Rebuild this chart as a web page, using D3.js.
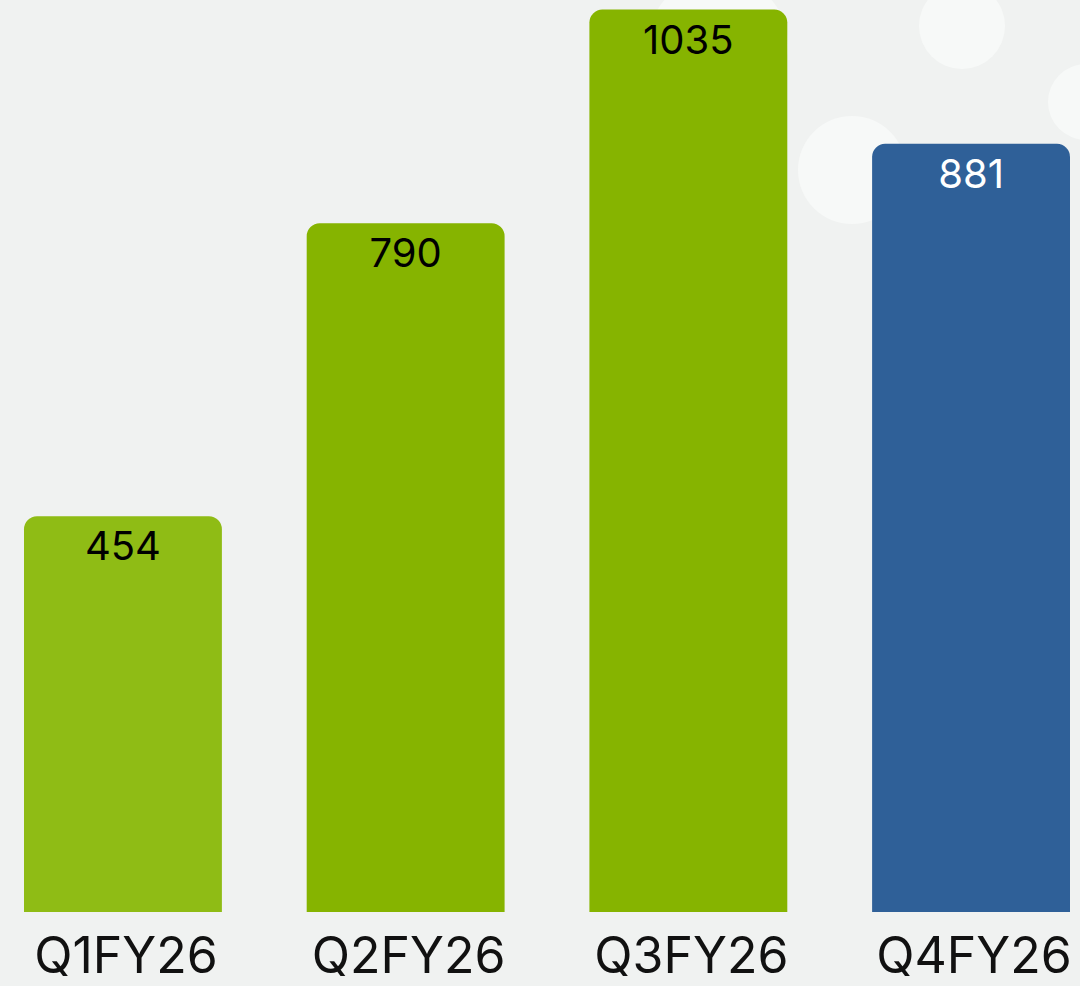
<!DOCTYPE html>
<html>
<head>
<meta charset="utf-8">
<script src="https://cdn.jsdelivr.net/npm/d3@7"></script>
<style>
  html, body { margin: 0; padding: 0; background: #f0f2f1; }
  svg { display: block; }
</style>
</head>
<body>
<svg id="chart" width="1080" height="986"></svg>
<script>
// ---- data ----
const categories = ["Q1FY26", "Q2FY26", "Q3FY26", "Q4FY26"];
const values = [454, 790, 1035, 881];

// ---- styles ----
const barColors = ["#8fbc15", "#86b400", "#86b400", "#2f6098"];
const labelColors = ["#000000", "#000000", "#000000", "#ffffff"];
const FONT = "Inter, 'Noto Sans', sans-serif";

const W = 1080, H = 986;
const svg = d3.select("#chart");

svg.append("rect").attr("width", W).attr("height", H).attr("fill", "#f0f2f1");

// decorative background bubbles
const bubbles = [
  { cx: 718, cy: 45, r: 70 },
  { cx: 962, cy: 26, r: 43 },
  { cx: 852, cy: 170, r: 54 },
  { cx: 1086, cy: 102, r: 38 }
];
svg.append("g").selectAll("circle").data(bubbles).join("circle")
  .attr("cx", d => d.cx).attr("cy", d => d.cy).attr("r", d => d.r)
  .attr("fill", "#f7f9f8");

const x = d3.scaleBand()
  .domain(categories)
  .range([24, 1070])
  .paddingInner(0.3)
  .paddingOuter(0);

const y = d3.scaleLinear()
  .domain([0, 1046])
  .range([912, 0]);

const rad = 13;
function barPath(d, i) {
  const x0 = x(categories[i]), x1 = x0 + x.bandwidth();
  const yt = y(d), yb = y(0);
  const p = d3.path();
  p.moveTo(x0, yb);
  p.lineTo(x0, yt + rad);
  p.arcTo(x0, yt, x0 + rad, yt, rad);
  p.lineTo(x1 - rad, yt);
  p.arcTo(x1, yt, x1, yt + rad, rad);
  p.lineTo(x1, yb);
  p.closePath();
  return p.toString();
}

svg.append("g").selectAll("path").data(values).join("path")
  .attr("d", (d, i) => barPath(d, i))
  .attr("fill", (d, i) => barColors[i]);

// value labels
svg.append("g").selectAll("text").data(values).join("text")
  .attr("x", (d, i) => x(categories[i]) + x.bandwidth() / 2)
  .attr("y", d => y(d) + 44)
  .attr("text-anchor", "middle")
  .attr("font-family", FONT)
  .attr("font-size", 40)
  .attr("fill", (d, i) => labelColors[i])
  .text(d => d);

// category axis
const xAxis = d3.axisBottom(x).tickSize(0).tickPadding(0);
const axisG = svg.append("g")
  .attr("transform", `translate(0, ${y(0)})`)
  .call(xAxis);
axisG.select(".domain").remove();
axisG.selectAll("text")
  .attr("dy", null)
  .attr("y", 61)
  .attr("dx", 3)
  .attr("font-family", FONT)
  .attr("font-size", 50)
  .attr("fill", "#111111");
</script>
</body>
</html>
